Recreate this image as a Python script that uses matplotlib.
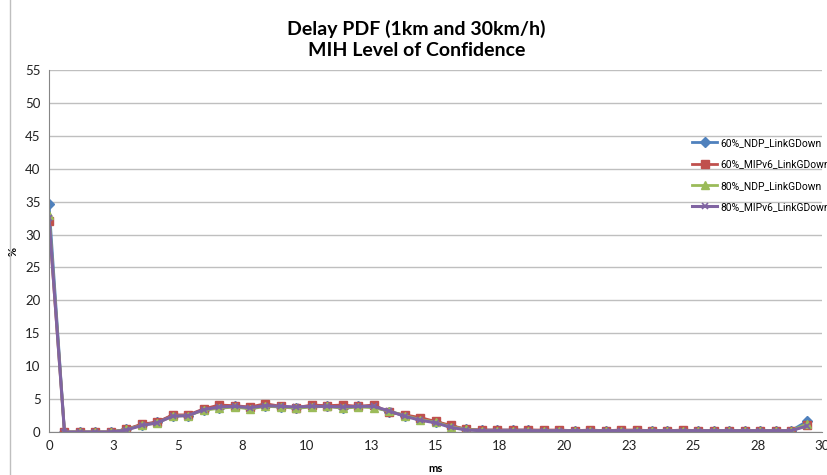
import matplotlib.pyplot as plt
from matplotlib.lines import Line2D

plt.rcParams['font.family'] = ['Lato', 'DejaVu Sans']

# delay bins (ms)
delay_ms = [0.0, 0.6, 1.2, 1.8, 2.4, 3.0, 3.6, 4.2, 4.8, 5.4,
            6.0, 6.6, 7.2, 7.8, 8.4, 9.0, 9.6, 10.2, 10.8, 11.4,
            12.0, 12.6, 13.2, 13.8, 14.4, 15.0, 15.6, 16.2, 16.8, 17.4,
            18.0, 18.6, 19.2, 19.8, 20.4, 21.0, 21.6, 22.2, 22.8, 23.4,
            24.0, 24.6, 25.2, 25.8, 26.4, 27.0, 27.6, 28.2, 28.8, 29.4]

ndp_60 = [34.6, 0, 0, 0, 0, 0.4, 1.1, 1.5, 2.5, 2.5,
          3.4, 3.7, 3.9, 3.6, 4.0, 3.8, 3.7, 3.9, 3.9, 3.7,
          3.9, 3.8, 3.1, 2.5, 2.0, 1.5, 0.9, 0.4, 0.3, 0.3,
          0.3, 0.3, 0.2, 0.2, 0.2, 0.2, 0.2, 0.2, 0.2, 0.2,
          0.2, 0.2, 0.2, 0.2, 0.2, 0.2, 0.2, 0.2, 0.2, 1.6]

mipv6_60 = [32.0, 0, 0, 0, 0, 0.4, 1.2, 1.5, 2.6, 2.6,
            3.5, 4.1, 4.0, 3.8, 4.3, 3.9, 3.7, 4.1, 4.0, 4.1,
            3.9, 4.1, 3.0, 2.6, 2.2, 1.6, 1.0, 0.4, 0.3, 0.3,
            0.3, 0.3, 0.3, 0.3, 0.2, 0.3, 0.2, 0.3, 0.3, 0.2,
            0.2, 0.3, 0.2, 0.2, 0.2, 0.2, 0.2, 0.2, 0.2, 1.0]

ndp_80 = [33.0, 0, 0, 0, 0, 0.4, 1.0, 1.4, 2.4, 2.5,
          3.3, 3.6, 3.8, 3.5, 3.9, 3.8, 3.6, 3.8, 3.9, 3.6,
          3.8, 3.7, 3.2, 2.5, 1.9, 1.5, 0.8, 0.4, 0.2, 0.2,
          0.2, 0.2, 0.2, 0.2, 0.2, 0.2, 0.2, 0.2, 0.2, 0.2,
          0.2, 0.2, 0.2, 0.2, 0.2, 0.2, 0.2, 0.2, 0.2, 1.2]

mipv6_80 = [32.5, 0, 0, 0, 0, 0.3, 1.0, 1.4, 2.4, 2.5,
            3.4, 3.8, 3.9, 3.7, 4.0, 3.9, 3.8, 3.9, 3.9, 3.8,
            3.9, 3.9, 3.2, 2.4, 1.8, 1.4, 0.7, 0.3, 0.2, 0.2,
            0.2, 0.2, 0.2, 0.2, 0.2, 0.2, 0.2, 0.2, 0.2, 0.2,
            0.2, 0.2, 0.2, 0.2, 0.2, 0.2, 0.2, 0.2, 0.2, 0.9]

series_names = ['60%_NDP_LinkGDown', '60%_MIPv6_LinkGDown',
                '80%_NDP_LinkGDown', '80%_MIPv6_LinkGDown']

x_ticks = [0, 2.5, 5, 7.5, 10, 12.5, 15, 17.5, 20, 22.5, 25, 27.5, 30]
x_tick_labels = ['0', '3', '5', '8', '10', '13', '15', '18', '20', '23', '25', '28', '30']
y_ticks = [0, 5, 10, 15, 20, 25, 30, 35, 40, 45, 50, 55]

fig = plt.figure(figsize=(8.28, 4.75), dpi=100)
ax = fig.add_axes([0.0592, 0.0905, 0.9336, 0.7621])

# outer chart frame (left edge visible)
fig.add_artist(Line2D([10 / 828, 10 / 828], [0, 1], color='#bfbfbf', lw=1))

ax.plot(delay_ms, ndp_60, color='#4f81bd', marker='D', ms=5, lw=2, label=series_names[0])
ax.plot(delay_ms, mipv6_60, color='#c0504d', marker='s', ms=6, lw=2, label=series_names[1])
ax.plot(delay_ms, ndp_80, color='#9bbb59', marker='^', ms=6, lw=2, label=series_names[2])
ax.plot(delay_ms, mipv6_80, color='#8064a2', marker='x', ms=5, mew=1.2, lw=2.2, label=series_names[3])

ax.set_xlim(0, 30)
ax.set_ylim(0, 55)
ax.set_xticks(x_ticks)
ax.set_xticklabels(x_tick_labels)
ax.set_yticks(y_ticks)
ax.grid(axis='y', color='#bfbfbf', lw=1)
ax.set_axisbelow(True)
for side in ['top', 'right']:
    ax.spines[side].set_visible(False)
ax.spines['left'].set_color('#868686')
ax.spines['bottom'].set_color('#868686')
ax.tick_params(axis='both', length=0, labelsize=9.5, colors='#222222', pad=6)

ax.set_xlabel('ms', fontsize=8, fontweight='bold')
ax.xaxis.set_label_coords((436 - 49) / 773, -0.085)
ax.set_ylabel('%', fontsize=8, fontweight='bold')
ax.yaxis.set_label_coords(-0.039, 0.5)

fig.text(0.503, 0.917, 'Delay PDF (1km and 30km/h)\nMIH Level of Confidence',
         ha='center', va='center', fontsize=14, fontweight='bold', linespacing=1.35)

ax.legend(loc='upper left', bbox_to_anchor=(0.832, 0.812), frameon=False,
          prop={'family': ['Roboto', 'DejaVu Sans'], 'size': 7.4},
          handlelength=2.4, handletextpad=0.3,
          labelspacing=1.1, borderaxespad=0, borderpad=0)

fig.savefig('out.png', dpi=100)
